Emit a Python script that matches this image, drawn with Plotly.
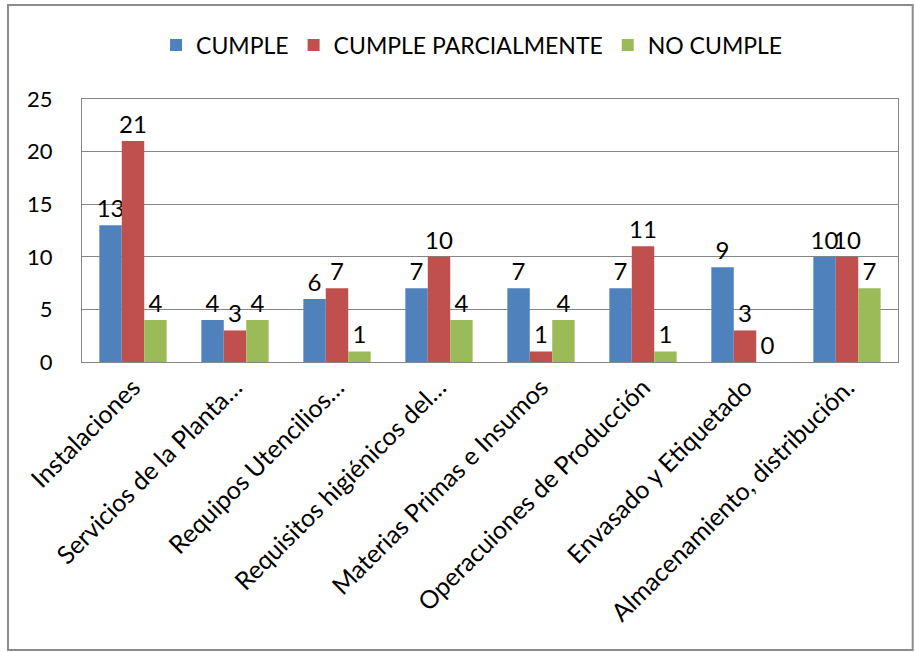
import plotly.graph_objects as go

categories = ["Instalaciones", "Servicios de la Planta…", "Requipos Utencilios…",
              "Requisitos higiénicos del…", "Materias Primas e Insumos",
              "Operacuiones de Producción", "Envasado y Etiquetado",
              "Almacenamiento, distribución."]
cumple = [13, 4, 6, 7, 7, 7, 9, 10]
parcial = [21, 3, 7, 10, 1, 11, 3, 10]
no_cumple = [4, 4, 1, 4, 4, 1, 0, 7]
y_ticks = [0, 5, 10, 15, 20, 25]

series = [("CUMPLE", cumple, "#4F81BD"),
          ("CUMPLE PARCIALMENTE", parcial, "#C0504D"),
          ("NO CUMPLE", no_cumple, "#9BBB59")]

FONT = "Lato, Open Sans, sans-serif"
fig = go.Figure()
for name, vals, col in series:
    fig.add_trace(go.Bar(
        x=categories, y=vals, name=name, marker_color=col,
        marker_line_width=0,
        text=[str(v) for v in vals], textposition="outside",
        constraintext="none",
        textfont=dict(size=24, color="#000000", family=FONT),
        cliponaxis=False,
    ))

fig.update_layout(
    width=915, height=652,
    margin=dict(l=82, r=17, t=99, b=290, autoexpand=False),
    paper_bgcolor="white", plot_bgcolor="white",
    barmode="group", bargap=0.34, bargroupgap=0,
    font=dict(family=FONT, size=20, color="#000000"),
    legend=dict(orientation="h", x=0.478, xanchor="center", y=1.205, yanchor="middle",
                font=dict(size=23, family=FONT), traceorder="normal"),
    uniformtext=dict(mode=False),
)
fig.update_yaxes(range=[0, 25], tickvals=y_ticks, showgrid=True, gridcolor="#868686",
                 gridwidth=1, showline=True, linecolor="#868686", linewidth=1,
                 mirror=True, zeroline=False, ticks="", ticklabelstandoff=24,
                 tickfont=dict(size=22), automargin=False)
fig.update_xaxes(tickangle=-45, showline=True, linecolor="#868686", linewidth=1,
                 mirror=True, ticks="", tickfont=dict(size=25), automargin=False)
fig.add_shape(type="rect", xref="paper", yref="paper",
              x0=-0.0907, x1=1.018, y0=-1.095, y1=1.357,
              line=dict(color="#8C8C8C", width=2), fillcolor="rgba(0,0,0,0)")
fig.write_html("out.html")
